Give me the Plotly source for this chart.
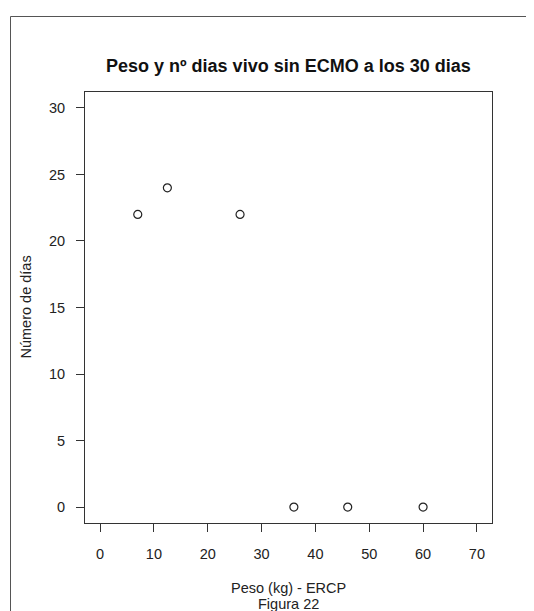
import plotly.graph_objects as go

peso = [7, 12.5, 26, 36, 46, 60]
dias = [22, 24, 22, 0, 0, 0]
x_ticks = [0, 10, 20, 30, 40, 50, 60, 70]
y_ticks = [0, 5, 10, 15, 20, 25, 30]

OFF = 8  # page body margin
W, H = 534 - OFF, 611 - OFF
L, T = 85 - OFF, 92 - OFF
R = W - (492 - OFF)
B = H - (523 - OFF)
pw, ph = W - L - R, H - T - B

def px_x(p):
    return (p - OFF - L) / pw

def px_y(p):
    return (H - B - (p - OFF)) / ph

FONT = "Liberation Sans, Arial, Helvetica, sans-serif"
fig = go.Figure()
fig.add_trace(go.Scatter(
    x=peso, y=dias, mode="markers",
    marker=dict(symbol="circle-open", size=8, color="#222", line=dict(width=1.2, color="#222")),
    showlegend=False, hoverinfo="x+y"))

axis_common = dict(showgrid=False, zeroline=False, showline=True, mirror=True,
                   linecolor="#333", linewidth=1, ticks="outside", ticklen=8,
                   tickcolor="#333", tickwidth=1,
                   tickfont=dict(family=FONT, size=14.5, color="#222"))
fig.update_xaxes(range=[-2.8, 72.8], tickvals=x_ticks, ticktext=[str(v) for v in x_ticks],
                 ticklabelstandoff=10, **axis_common)
fig.update_yaxes(range=[-1.2, 31.2], tickvals=y_ticks, ticktext=[str(v) for v in y_ticks],
                 ticklabelstandoff=8, **axis_common)

fig.add_annotation(text="<b>Peso y nº dias vivo sin ECMO a los 30 dias</b>", xref="paper", yref="paper",
                   x=0.5, y=px_y(66), xanchor="center", yanchor="middle", showarrow=False,
                   font=dict(family=FONT, size=18, color="#111"))
fig.add_annotation(text="Peso (kg) - ERCP", xref="paper", yref="paper",
                   x=0.5, y=px_y(588), xanchor="center", yanchor="middle", showarrow=False,
                   font=dict(family=FONT, size=14.5, color="#222"))
fig.add_annotation(text="Figura 22", xref="paper", yref="paper",
                   x=0.5, y=px_y(604), xanchor="center", yanchor="middle", showarrow=False,
                   font=dict(family=FONT, size=14.5, color="#222"))
fig.add_annotation(text="Número de días", xref="paper", yref="paper",
                   x=px_x(25), y=0.5, xanchor="center", yanchor="middle", textangle=-90,
                   showarrow=False, font=dict(family=FONT, size=14.5, color="#222"))

fig.add_shape(type="rect", xref="paper", yref="paper",
              x0=px_x(10.5), x1=px_x(900), y0=px_y(900), y1=px_y(16.5),
              line=dict(color="#555", width=1), fillcolor="rgba(0,0,0,0)", layer="below")

fig.update_layout(width=W, height=H, margin=dict(l=L, r=R, t=T, b=B),
                  paper_bgcolor="white", plot_bgcolor="white")
fig.write_html("out.html")
